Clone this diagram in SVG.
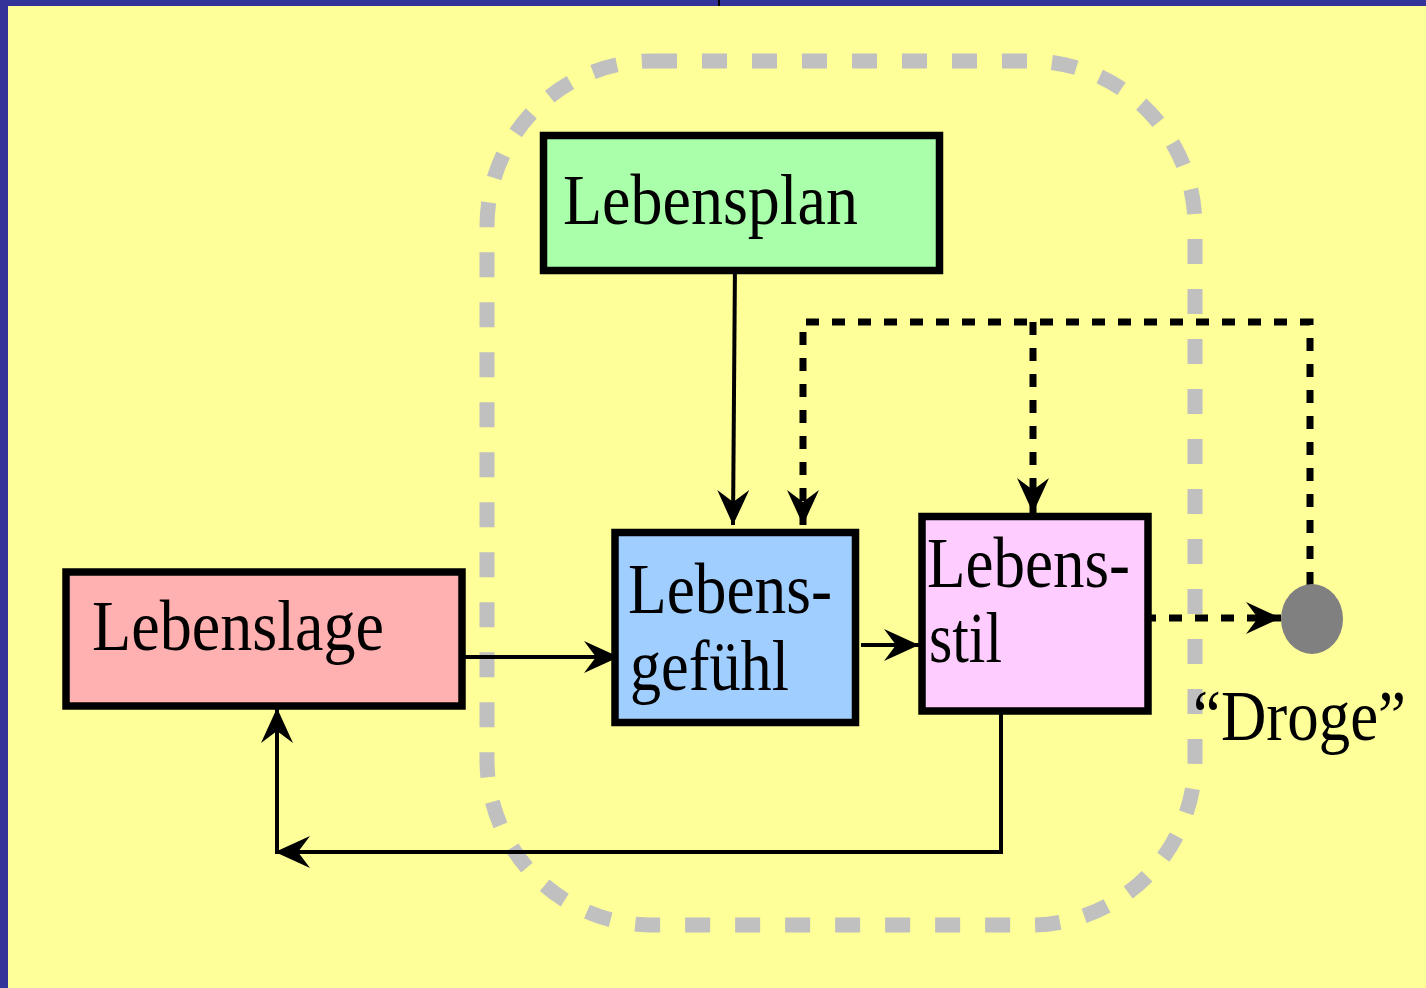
<svg xmlns="http://www.w3.org/2000/svg" width="1426" height="988" viewBox="0 0 1426 988">
  <style>
    .box { stroke: #000; stroke-width: 7.5; }
    .lbl { font-family: "Liberation Serif", "Times New Roman", serif; font-size: 72px; fill: #000; }
    .solid { fill: none; stroke: #000; stroke-width: 4; }
    .dots { fill: none; stroke: #000; stroke-width: 7; stroke-dasharray: 13 13; }
  </style>
  <defs>
    <marker id="arrow" viewBox="-36 -17 38 34" refX="0" refY="0" markerWidth="38" markerHeight="34" markerUnits="userSpaceOnUse" orient="auto">
      <path d="M0,0 L-35,-16 L-23,0 L-35,16 Z" fill="#000"/>
    </marker>
  </defs>

  <!-- page frame -->
  <rect x="0" y="0" width="1426" height="988" fill="#333399"/>
  <rect x="8" y="6" width="1418" height="982" fill="#FFFF99"/>
  <rect x="718" y="0" width="2" height="6" fill="#000"/>

  <!-- grouping outline -->
  <rect x="487" y="61" width="708" height="864" rx="165" ry="165" fill="none" stroke="#C0C0C0" stroke-width="15" stroke-dasharray="25 25"/>

  <g id="connectors">
    <path class="solid" d="M735,262 L733,525" marker-end="url(#arrow)"/>
    <path class="solid" d="M465,657 L619,657" marker-end="url(#arrow)"/>
    <path class="solid" d="M861,645 L919,645" marker-end="url(#arrow)"/>
    <path class="solid" d="M1001,711 L1001,852 L275,852" marker-end="url(#arrow)"/>
    <path class="solid" d="M277,852 L277,708" marker-end="url(#arrow)"/>
    <path class="dots" d="M1310,585 L1310,322 L803,322 L803,525" marker-end="url(#arrow)"/>
    <path class="dots" d="M1033,322 L1033,513" marker-end="url(#arrow)"/>
    <path class="dots" d="M1143,618 L1281,618" marker-end="url(#arrow)"/>
  </g>

  <g id="lebensplan">
    <rect class="box" x="543.5" y="135.5" width="396" height="135" fill="#AAFFAA"/>
    <text class="lbl" x="563" y="224" textLength="295" lengthAdjust="spacingAndGlyphs">Lebensplan</text>
  </g>

  <g id="lebenslage">
    <rect class="box" x="66" y="572" width="396" height="134" fill="#FFB0B0"/>
    <text class="lbl" x="92" y="650" textLength="292" lengthAdjust="spacingAndGlyphs">Lebenslage</text>
  </g>

  <g id="lebensgefuehl">
    <rect class="box" x="615" y="532.5" width="240.5" height="190" fill="#A0CFFF"/>
    <text class="lbl" x="628" y="613" textLength="204" lengthAdjust="spacingAndGlyphs">Lebens-</text>
    <text class="lbl" x="630" y="690" textLength="159" lengthAdjust="spacingAndGlyphs">gefühl</text>
  </g>

  <g id="lebensstil">
    <rect class="box" x="922" y="516.5" width="226" height="194.5" fill="#FFCCFF"/>
    <text class="lbl" x="927" y="587" textLength="203" lengthAdjust="spacingAndGlyphs">Lebens-</text>
    <text class="lbl" x="929" y="662" textLength="73" lengthAdjust="spacingAndGlyphs">stil</text>
  </g>

  <g id="droge">
    <ellipse cx="1312" cy="619" rx="31" ry="35" fill="#808080"/>
    <text class="lbl" x="1193" y="740" textLength="213" lengthAdjust="spacingAndGlyphs">“Droge”</text>
  </g>
</svg>
